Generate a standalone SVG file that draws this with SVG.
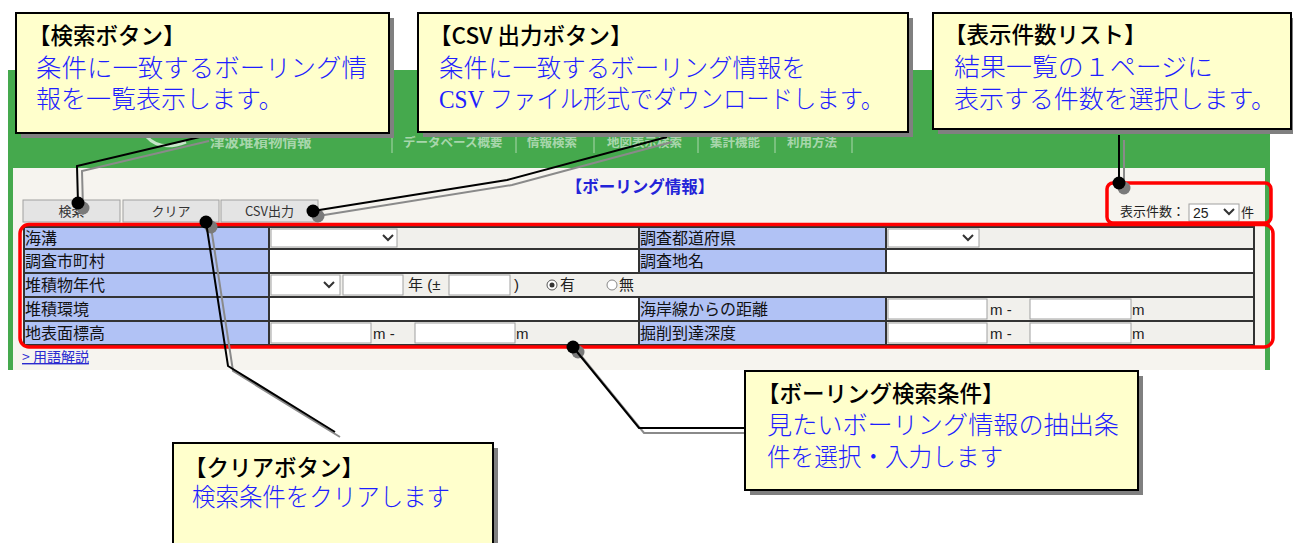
<svg xmlns="http://www.w3.org/2000/svg" width="1293" height="543" viewBox="0 0 1293 543">
<defs>
<style>
.box{fill:#ffffcc;stroke:#000;stroke-width:2}
.shd{fill:#808080}
.ttl{font-family:'Noto Sans CJK JP',sans-serif;font-size:22.5px;font-weight:500;fill:#000}
.blue{font-family:'Liberation Serif','Noto Sans CJK JP',serif;font-size:25px;font-weight:300;fill:#1e1eff}
.cl{fill:none;stroke:#000;stroke-width:2}
.cls{fill:none;stroke:#8a8a8a;stroke-width:2}
.dot{fill:#000}
.dots{fill:#7a7a7a}
.lbl{fill:#b1c2f5}
.lt{font-family:'Noto Sans CJK JP',sans-serif;font-size:16px;fill:#111}
.val{fill:#f1f0ec}
.inp{fill:#fff;stroke:#a0a0a0;stroke-width:1}
.grid{fill:none;stroke:#333;stroke-width:2}
.btn{fill:#e4e4e4;stroke:#a0a0a0;stroke-width:1}
.bt{font-family:'Noto Sans CJK JP',sans-serif;font-size:13px;fill:#333;text-anchor:middle}
.nav{font-family:'Noto Sans CJK JP',sans-serif;font-size:12.5px;font-weight:bold;fill:#fff;fill-opacity:0.55}
.sep{stroke:#fff;stroke-opacity:0.55;stroke-width:1}
.red{fill:none;stroke:#ff0000;stroke-width:3.5}
.sm{font-family:'Liberation Sans','Noto Sans CJK JP',sans-serif;font-size:15px;fill:#222}
.chev{fill:none;stroke:#333;stroke-width:2}
</style>
</defs>
<rect x="0" y="0" width="1293" height="543" fill="#ffffff"/>

<g id="page">
  <rect x="8" y="70" width="1262" height="300" fill="#45a94d"/>
  <rect x="13" y="168" width="1252" height="202" fill="#f6f4ef"/>
  <path d="M146,136 Q160,152 186,142" fill="none" stroke="#fff" stroke-opacity="0.7" stroke-width="3"/>
  <text class="nav" x="210" y="147" style="font-size:14.5px">津波堆積物情報</text>
  <line class="sep" x1="392" y1="132" x2="392" y2="153"/>
  <text class="nav" x="403" y="147">データベース概要</text>
  <line class="sep" x1="516" y1="132" x2="516" y2="153"/>
  <text class="nav" x="527" y="147">情報検索</text>
  <line class="sep" x1="594" y1="132" x2="594" y2="153"/>
  <text class="nav" x="607" y="147">地図表示検索</text>
  <line class="sep" x1="698" y1="132" x2="698" y2="153"/>
  <text class="nav" x="710" y="147">集計機能</text>
  <line class="sep" x1="775" y1="132" x2="775" y2="153"/>
  <text class="nav" x="787" y="147">利用方法</text>
  <line class="sep" x1="852" y1="132" x2="852" y2="153"/>

  <text x="640" y="193" text-anchor="middle" font-family="'Noto Sans CJK JP',sans-serif" font-size="16.5" font-weight="bold" fill="#2323d8">【ボーリング情報】</text>

  <rect class="btn" x="23" y="200" width="97" height="22"/>
  <text class="bt" x="71.5" y="216">検索</text>
  <rect class="btn" x="123" y="200" width="96" height="22"/>
  <text class="bt" x="171" y="216">クリア</text>
  <rect class="btn" x="221" y="200" width="97" height="22"/>
  <text class="bt" x="269.5" y="216">CSV出力</text>

  <text x="1120" y="216" font-family="'Noto Sans CJK JP',sans-serif" font-size="13" fill="#222">表示件数：</text>
  <rect class="inp" x="1189" y="204" width="50" height="17"/>
  <text x="1193" y="218" font-family="'Liberation Sans',sans-serif" font-size="14" fill="#222">25</text>
  <polyline class="chev" points="1224,209 1229,214 1234,209"/>
  <text x="1241" y="217" font-family="'Noto Sans CJK JP',sans-serif" font-size="13" fill="#222">件</text>

  <rect class="lbl" x="24" y="227" width="245" height="118"/>
  <rect class="lbl" x="639" y="227" width="247" height="46"/>
  <rect class="lbl" x="639" y="297" width="247" height="48"/>
  <rect class="val" x="269" y="227" width="370" height="22"/>
  <rect class="val" x="886" y="227" width="368" height="22"/>
  <rect fill="#fff" x="269" y="249" width="370" height="24"/>
  <rect fill="#fff" x="886" y="249" width="368" height="24"/>
  <rect class="val" x="269" y="273" width="985" height="24"/>
  <rect fill="#fff" x="269" y="297" width="370" height="24"/>
  <rect class="val" x="886" y="297" width="368" height="48"/>
  <rect class="val" x="269" y="321" width="370" height="24"/>

  <rect class="inp" x="271" y="229" width="126" height="18"/>
  <polyline class="chev" points="383,235 388,240 393,235"/>
  <rect class="inp" x="888" y="229" width="91" height="18"/>
  <polyline class="chev" points="963,235 968,240 973,235"/>

  <rect class="inp" x="271" y="275" width="69" height="20"/>
  <polyline class="chev" points="324,282 329,287 334,282"/>
  <rect class="inp" x="343" y="275" width="60" height="20"/>
  <text class="sm" x="408" y="290">年 (±</text>
  <rect class="inp" x="449" y="275" width="61" height="20"/>
  <text class="sm" x="514" y="290">)</text>
  <circle cx="552" cy="285" r="5" fill="#fff" stroke="#555" stroke-width="1"/>
  <circle cx="552" cy="285" r="2.5" fill="#333"/>
  <text class="sm" x="560" y="290">有</text>
  <circle cx="612" cy="285" r="5" fill="#fff" stroke="#888" stroke-width="1"/>
  <text class="sm" x="619" y="290">無</text>

  <rect class="inp" x="888" y="299" width="99" height="20"/>
  <text class="sm" x="990" y="315">m -</text>
  <rect class="inp" x="1030" y="299" width="101" height="20"/>
  <text class="sm" x="1132" y="315">m</text>

  <rect class="inp" x="271" y="323" width="100" height="20"/>
  <text class="sm" x="373" y="339">m -</text>
  <rect class="inp" x="415" y="323" width="100" height="20"/>
  <text class="sm" x="516" y="339">m</text>
  <rect class="inp" x="888" y="323" width="99" height="20"/>
  <text class="sm" x="990" y="339">m -</text>
  <rect class="inp" x="1030" y="323" width="101" height="20"/>
  <text class="sm" x="1132" y="339">m</text>

  <rect class="grid" x="24" y="227" width="1230" height="118"/>
  <line class="grid" x1="24" y1="249" x2="1254" y2="249"/>
  <line class="grid" x1="24" y1="273" x2="1254" y2="273"/>
  <line class="grid" x1="24" y1="297" x2="1254" y2="297"/>
  <line class="grid" x1="24" y1="321" x2="1254" y2="321"/>
  <line class="grid" x1="269" y1="227" x2="269" y2="345"/>
  <line class="grid" x1="639" y1="227" x2="639" y2="273"/>
  <line class="grid" x1="639" y1="297" x2="639" y2="345"/>
  <line class="grid" x1="886" y1="227" x2="886" y2="273"/>
  <line class="grid" x1="886" y1="297" x2="886" y2="345"/>

  <text class="lt" x="25" y="244">海溝</text>
  <text class="lt" x="25" y="267">調査市町村</text>
  <text class="lt" x="25" y="291">堆積物年代</text>
  <text class="lt" x="25" y="315">堆積環境</text>
  <text class="lt" x="25" y="339">地表面標高</text>
  <text class="lt" x="640" y="244">調査都道府県</text>
  <text class="lt" x="640" y="267">調査地名</text>
  <text class="lt" x="640" y="315">海岸線からの距離</text>
  <text class="lt" x="640" y="339">掘削到達深度</text>

  <text x="22" y="362" font-family="'Noto Sans CJK JP',sans-serif" font-size="14" fill="#2a2ad0" text-decoration="underline">&gt; 用語解説</text>

  <rect class="red" x="20" y="224.5" width="1253" height="122.5" rx="9"/>
  <rect class="red" x="1107" y="183" width="164" height="40" rx="6"/>
</g>

<g id="connectors">
  <g transform="translate(5,5)">
    <path class="cls" d="M204,136 L77,166 L78,203"/>
    <path class="cls" d="M667,137 L507,180 L313,211"/>
    <path class="cls" d="M1119,135 L1119,183"/>
    <path class="cls" d="M206,222 L228,366 L335,432"/>
    <path class="cls" d="M573,347 L639,428 L745,428"/>
    <circle class="dots" cx="78" cy="203" r="6.5"/>
    <circle class="dots" cx="313" cy="211" r="6.5"/>
    <circle class="dots" cx="1119" cy="183" r="6.5"/>
    <circle class="dots" cx="206" cy="222" r="6.5"/>
    <circle class="dots" cx="573" cy="347" r="6.5"/>
  </g>
  <path class="cl" d="M204,136 L77,166 L78,203"/>
  <path class="cl" d="M667,137 L507,180 L313,211"/>
  <path class="cl" d="M1119,135 L1119,183"/>
  <path class="cl" d="M206,222 L228,366 L335,432"/>
  <path class="cl" d="M573,347 L639,428 L745,428"/>
  <circle class="dot" cx="78" cy="203" r="6.5"/>
  <circle class="dot" cx="313" cy="211" r="6.5"/>
  <circle class="dot" cx="1119" cy="183" r="6.5"/>
  <circle class="dot" cx="206" cy="222" r="6.5"/>
  <circle class="dot" cx="573" cy="347" r="6.5"/>
</g>

<g id="callout-search">
  <rect class="shd" x="21" y="18" width="373" height="120"/>
  <rect class="box" x="16" y="13" width="373" height="120"/>
  <text class="ttl" x="28" y="44">【検索ボタン】</text>
  <text class="blue" x="36" y="77" textLength="331" lengthAdjust="spacingAndGlyphs">条件に一致するボーリング情</text>
  <text class="blue" x="36" y="108">報を一覧表示します。</text>
</g>

<g id="callout-csv">
  <rect class="shd" x="423" y="18" width="490" height="119"/>
  <rect class="box" x="418" y="13" width="490" height="119"/>
  <text class="ttl" x="429" y="44">【CSV 出力ボタン】</text>
  <text class="blue" x="439" y="77" textLength="367" lengthAdjust="spacingAndGlyphs">条件に一致するボーリング情報を</text>
  <text class="blue" x="439" y="108" textLength="445" lengthAdjust="spacingAndGlyphs">CSV ファイル形式でダウンロードします。</text>
</g>

<g id="callout-count">
  <rect class="shd" x="938" y="18" width="358" height="116"/>
  <rect class="box" x="933" y="13" width="358" height="116"/>
  <text class="ttl" x="944" y="43">【表示件数リスト】</text>
  <text class="blue" x="954" y="76" textLength="259" lengthAdjust="spacingAndGlyphs">結果一覧の１ページに</text>
  <text class="blue" x="954" y="108" textLength="322" lengthAdjust="spacingAndGlyphs">表示する件数を選択します。</text>
</g>

<g id="callout-clear">
  <rect class="shd" x="178" y="448" width="320" height="110"/>
  <rect class="box" x="173" y="443" width="320" height="110"/>
  <text class="ttl" x="184" y="476">【クリアボタン】</text>
  <text class="blue" x="192" y="506" textLength="258" lengthAdjust="spacingAndGlyphs">検索条件をクリアします</text>
</g>

<g id="callout-conditions">
  <rect class="shd" x="750" y="376" width="393" height="119"/>
  <rect class="box" x="745" y="371" width="393" height="119"/>
  <text class="ttl" x="757" y="402">【ボーリング検索条件】</text>
  <text class="blue" x="767" y="434" textLength="352" lengthAdjust="spacingAndGlyphs">見たいボーリング情報の抽出条</text>
  <text class="blue" x="767" y="466" textLength="236" lengthAdjust="spacingAndGlyphs">件を選択・入力します</text>
</g>
</svg>
